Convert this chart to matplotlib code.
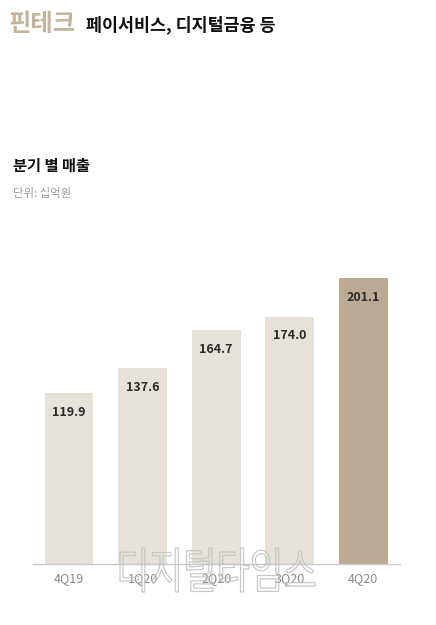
import matplotlib
matplotlib.use("Agg")
import matplotlib.pyplot as plt
from matplotlib.textpath import TextPath
from matplotlib.patches import PathPatch
from matplotlib.font_manager import FontProperties
from matplotlib.transforms import Affine2D

plt.rcParams['font.family'] = ['Noto Sans CJK KR', 'DejaVu Sans']

quarters = ["4Q19", "1Q20", "2Q20", "3Q20", "4Q20"]
revenue = [119.9, 137.6, 164.7, 174.0, 201.1]
bar_colors = ["#e6e1d9", "#e6e1d9", "#e6e1d9", "#e6e1d9", "#bbab95"]

fig = plt.figure(figsize=(4.36, 6.25), dpi=100)
fig.patch.set_facecolor("white")

ax = fig.add_axes([33/436, (625-564)/625, 367/436, 294/625])
x = list(range(len(quarters)))
bars = ax.bar(x, revenue, width=0.665, color=bar_colors, zorder=2)
ax.set_xlim(-0.49, 4.5)
ax.set_ylim(0, 206.7)
for b, v in zip(bars, revenue):
    ax.annotate(f"{v:.1f}", (b.get_x() + b.get_width()/2, v),
                xytext=(0, -14), textcoords="offset points",
                ha="center", va="center", fontsize=9, fontweight="bold",
                color="#2a2a2a")

for s in ["top", "right", "left"]:
    ax.spines[s].set_visible(False)
ax.spines["bottom"].set_color("#c8c8c8")
ax.spines["bottom"].set_linewidth(1.0)
ax.set_yticks([])
ax.set_xticks(x)
ax.set_xticklabels(quarters, fontsize=9, color="#8a8a8a")
ax.tick_params(axis="x", length=0, pad=6)

# Titles
fig.text(9/436, 1 - 24/625, "핀테크", fontsize=17.5, fontweight="bold",
         color="#c4b49e", va="center", ha="left")
fig.text(86/436, 1 - 25/625, "페이서비스, 디지털금융 등", fontsize=12.5,
         fontweight="bold", color="#111111", va="center", ha="left")
fig.text(13/436, 1 - 166/625, "분기 별 매출", fontsize=11, fontweight="bold",
         color="#111111", va="center", ha="left")
fig.text(13/436, 1 - 193/625, "단위: 십억원", fontsize=8.2, color="#9a9a9a",
         va="center", ha="left")

# Watermark logo (outlined glyph shapes)
fp = FontProperties(family="Noto Sans CJK KR", weight="regular")
tp = TextPath((0, 0), "디지털타임스", size=40, prop=fp)
bb = tp.get_extents()
sx = 195 / bb.width
sy = 44 / bb.height
tr = (Affine2D().translate(-bb.x0, -bb.y0).scale(sx, sy)
      .translate(120, 625 - 592))
patch = PathPatch(tr.transform_path(tp), facecolor="none",
                  edgecolor="#c4c4c4", linewidth=0.9, alpha=0.9,
                  transform=None, zorder=10)
fig.add_artist(patch)

fig.savefig("out.png", dpi=100, facecolor="white")
